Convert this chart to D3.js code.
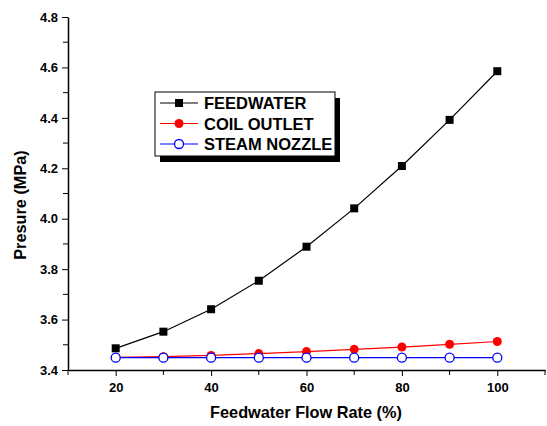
<!DOCTYPE html>
<html>
<head>
<meta charset="utf-8">
<script src="https://cdn.jsdelivr.net/npm/d3@7"></script>
<style>
  body { margin: 0; background: #fff; }
  svg text { font-family: "Liberation Sans", Arial, sans-serif; font-weight: bold; }
</style>
</head>
<body>
<svg width="547" height="426"></svg>
<script>
// data
var flowRate = [20, 30, 40, 50, 60, 70, 80, 90, 100];
var feedwater = [3.486, 3.552, 3.641, 3.754, 3.889, 4.041, 4.209, 4.392, 4.585];
var coilOutlet = [3.450, 3.453, 3.458, 3.465, 3.473, 3.482, 3.491, 3.502, 3.513];
var steamNozzle = [3.449, 3.449, 3.449, 3.449, 3.449, 3.449, 3.449, 3.449, 3.449];
var seriesNames = ["FEEDWATER", "COIL OUTLET", "STEAM NOZZLE"];
var xTicks = [20, 40, 60, 80, 100];
var yTicks = [3.4, 3.6, 3.8, 4.0, 4.2, 4.4, 4.6, 4.8];

var svg = d3.select("svg");

var x = d3.scaleLinear().domain([10, 110]).range([68, 545]);
var y = d3.scaleLinear().domain([3.4, 4.8]).range([370, 17]);

// y axis
var yAxis = d3.axisLeft(y).tickValues(yTicks).tickFormat(d3.format(".1f")).tickSize(6).tickSizeOuter(0);
var gy = svg.append("g").attr("transform", "translate(68,0)").call(yAxis);
gy.selectAll("text").attr("font-size", 13).attr("fill", "#000").attr("x", -10);
// minor y ticks
gy.selectAll(".minor").data(d3.range(3.5, 4.8, 0.2)).enter().append("line")
  .attr("x1", 0).attr("x2", -5)
  .attr("y1", d => y(d)).attr("y2", d => y(d))
  .attr("stroke", "#000");

// x axis
var xAxis = d3.axisBottom(x).tickValues(xTicks).tickSize(6).tickSizeOuter(0);
var gx = svg.append("g").attr("transform", "translate(0,370)").call(xAxis);
gx.selectAll("text").attr("font-size", 13).attr("fill", "#000").attr("y", 13);
gx.selectAll(".minor").data([10, 30, 50, 70, 90, 110]).enter().append("line")
  .attr("x1", d => x(d)).attr("x2", d => x(d))
  .attr("y1", 0).attr("y2", 5)
  .attr("stroke", "#000");
svg.selectAll(".domain").attr("stroke", "#000").attr("stroke-width", 1.5);
svg.selectAll(".tick line").attr("stroke", "#000");

// axis titles
svg.append("text").attr("x", 306).attr("y", 418).attr("text-anchor", "middle")
  .attr("font-size", 16.3).text("Feedwater Flow Rate (%)");
svg.append("text").attr("transform", "translate(26,205) rotate(-90)").attr("text-anchor", "middle")
  .attr("font-size", 16.3).text("Presure (MPa)");

var line = d3.line().x((d, i) => x(flowRate[i])).y(d => y(d));

// lines
svg.append("path").datum(feedwater).attr("d", line).attr("fill", "none").attr("stroke", "#000").attr("stroke-width", 1.2);
svg.append("path").datum(coilOutlet).attr("d", line).attr("fill", "none").attr("stroke", "#ff0000").attr("stroke-width", 1.2);
svg.append("path").datum(steamNozzle).attr("d", line).attr("fill", "none").attr("stroke", "#0000ff").attr("stroke-width", 1.2);

// markers
svg.selectAll(".sq").data(feedwater).enter().append("rect")
  .attr("x", (d, i) => x(flowRate[i]) - 4).attr("y", d => y(d) - 4)
  .attr("width", 8).attr("height", 8).attr("fill", "#000");
svg.selectAll(".red").data(coilOutlet).enter().append("circle")
  .attr("cx", (d, i) => x(flowRate[i])).attr("cy", d => y(d)).attr("r", 4.5).attr("fill", "#ff0000");
svg.selectAll(".blue").data(steamNozzle).enter().append("circle")
  .attr("cx", (d, i) => x(flowRate[i])).attr("cy", d => y(d)).attr("r", 4.5)
  .attr("fill", "#fff").attr("stroke", "#0000ff").attr("stroke-width", 1.3);

// legend
var lg = svg.append("g").attr("transform", "translate(155,92)");
lg.append("rect").attr("x", 5).attr("y", 6).attr("width", 180).attr("height", 64).attr("fill", "#000");
lg.append("rect").attr("x", 0).attr("y", 0).attr("width", 180).attr("height", 64).attr("fill", "#fff").attr("stroke", "#000");
var colors = ["#000", "#ff0000", "#0000ff"];
seriesNames.forEach(function(name, i) {
  var yy = 11 + i * 20.5;
  lg.append("line").attr("x1", 5).attr("x2", 43).attr("y1", yy).attr("y2", yy).attr("stroke", colors[i]).attr("stroke-width", 1.2);
  if (i === 0) lg.append("rect").attr("x", 20).attr("y", yy - 4).attr("width", 8).attr("height", 8).attr("fill", "#000");
  else if (i === 1) lg.append("circle").attr("cx", 24).attr("cy", yy).attr("r", 4.5).attr("fill", "#ff0000");
  else lg.append("circle").attr("cx", 24).attr("cy", yy).attr("r", 4.5).attr("fill", "#fff").attr("stroke", "#0000ff").attr("stroke-width", 1.3);
  lg.append("text").attr("x", 49).attr("y", yy + 6).attr("font-size", 16.5).text(name);
});
</script>
</body>
</html>
